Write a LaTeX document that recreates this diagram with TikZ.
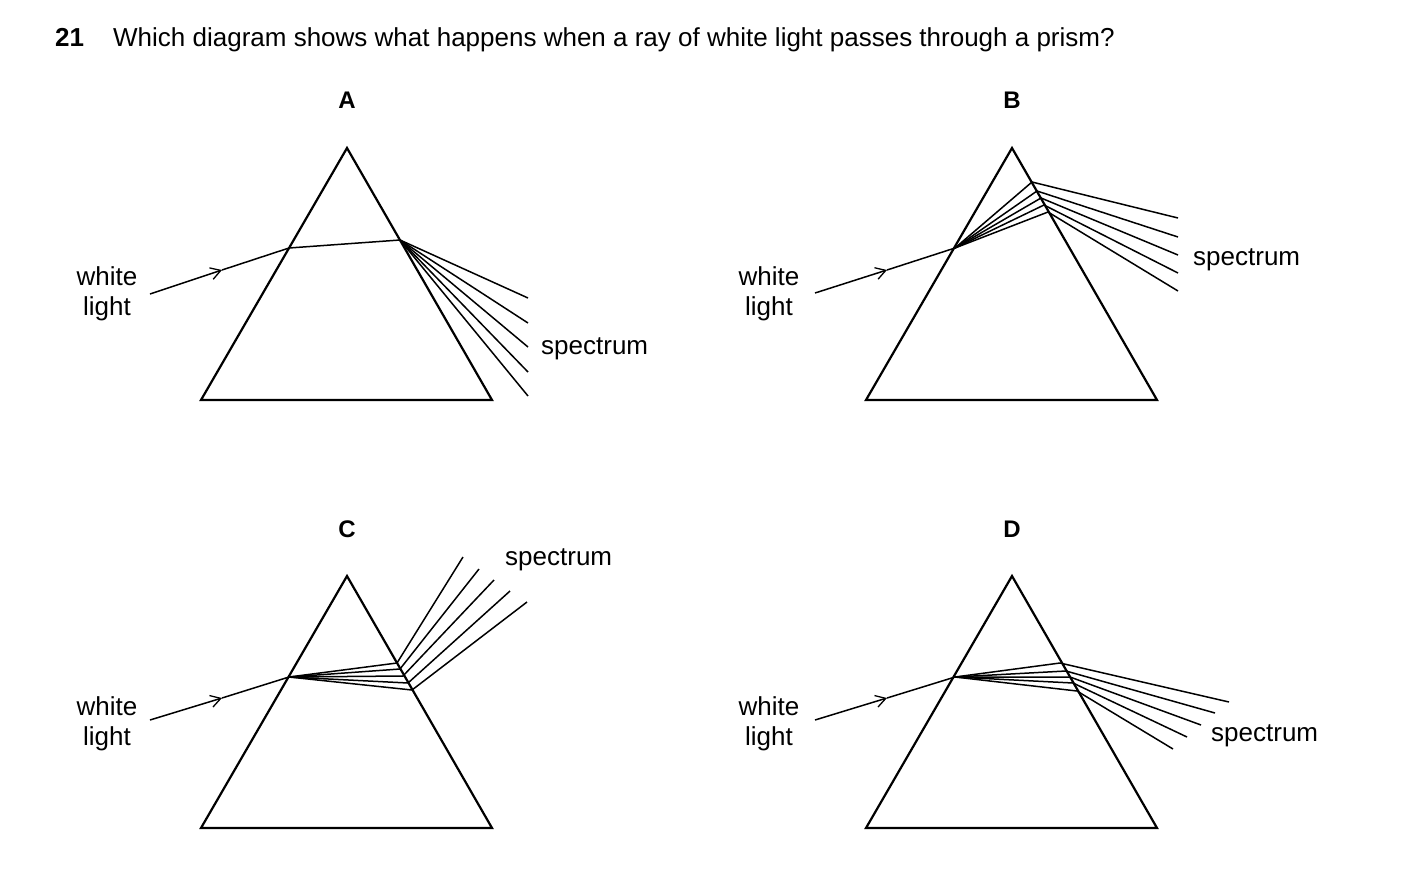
\documentclass[tikz,border=0pt]{standalone}
\usepackage{fontspec}
\setmainfont{Liberation Sans}
\usetikzlibrary{arrows.meta}
\begin{document}
\begin{tikzpicture}[x=1pt,y=-1pt,
  prism/.style={line width=2.2pt,line join=miter},
  ray/.style={line width=1.5pt},
  inarrow/.style={line width=1.5pt,-{Straight Barb[length=10pt,width=12pt,line width=1.3pt]}},
  lab/.style={font=\fontsize{26}{30}\selectfont,inner sep=0pt},
  ttl/.style={font=\fontsize{24}{28}\selectfont\bfseries,inner sep=0pt}]
\useasboundingbox (0,0) rectangle (1403,876);
\node[lab,anchor=base west] (num) at (55,46) {\textbf{21}};
\node[lab,anchor=base west] (q) at (113,46) {Which diagram shows what happens when a ray of white light passes through a prism?};
\node[ttl] (tA) at (347,100) {A};
\node[ttl] (tB) at (1012,100) {B};
\node[ttl] (tC) at (347,529) {C};
\node[ttl] (tD) at (1012,529) {D};
% prisms
\foreach \n/\dx/\dy in {A/0/0,B/665/0,C/0/428,D/665/428}{
  \coordinate (\n t) at (347+\dx,148+\dy);
  \coordinate (\n l) at (201+\dx,400+\dy);
  \coordinate (\n r) at (492+\dx,400+\dy);
  \draw[prism] (\n t) -- (\n l) -- (\n r) -- cycle;
}
\foreach \n/\x/\dy in {A/107/0,B/769/0,C/107/430,D/769/430}{
  \node[lab] (w\n) at (\x,276+\dy) {white};
  \node[lab] (li\n) at (\x,309+\dy) {light};
}
% A
\coordinate (As) at (150,294); \coordinate (Am) at (222,270); \coordinate (Ae) at (289,248); \coordinate (Ax) at (400,240);
\draw[inarrow] (As) -- (Am); \draw[ray] (Am) -- (Ae) -- (Ax);
\foreach \y in {298,323,347,372,396}{\coordinate (Ao) at (528,\y); \draw[ray] (Ax) -- (Ao);}
\node[lab,anchor=west] (sA) at (541,349) {spectrum};
% B
\coordinate (Bs) at (815,293); \coordinate (Bm) at (887,270); \coordinate (Be) at (955,248);
\draw[inarrow] (Bs) -- (Bm); \draw[ray] (Bm) -- (Be);
\foreach \px/\py/\oy in {1032/182/218,1037/191/237,1041/198/255,1044/205/273,1048/212/291}{
  \coordinate (Bx) at (\px,\py); \coordinate (Bo) at (1178,\oy);
  \draw[ray] (Be) -- (Bx) -- (Bo);}
\node[lab,anchor=west] (sB) at (1193,260) {spectrum};
% C
\coordinate (Cs) at (150,720); \coordinate (Cm) at (222,698); \coordinate (Ce) at (289,677);
\draw[inarrow] (Cs) -- (Cm); \draw[ray] (Cm) -- (Ce);
\foreach \px/\py/\ox/\oy in {397/663/463/557,400/669/479/569,403/676/494/580,408/683/510/591,412/690/527/602}{
  \coordinate (Cx) at (\px,\py); \coordinate (Co) at (\ox,\oy);
  \draw[ray] (Ce) -- (Cx) -- (Co);}
\node[lab,anchor=west] (sC) at (505,560) {spectrum};
% D
\coordinate (Ds) at (815,720); \coordinate (Dm) at (887,698); \coordinate (De) at (955,677);
\draw[inarrow] (Ds) -- (Dm); \draw[ray] (Dm) -- (De);
\foreach \px/\py/\ox/\oy in {1060/663/1229/702,1066/671/1215/713,1070/677/1201/725,1073/683/1187/737,1077/691/1173/749}{
  \coordinate (Dx) at (\px,\py); \coordinate (Do) at (\ox,\oy);
  \draw[ray] (De) -- (Dx) -- (Do);}
\node[lab,anchor=west] (sD) at (1211,736) {spectrum};
\end{tikzpicture}
\end{document}
